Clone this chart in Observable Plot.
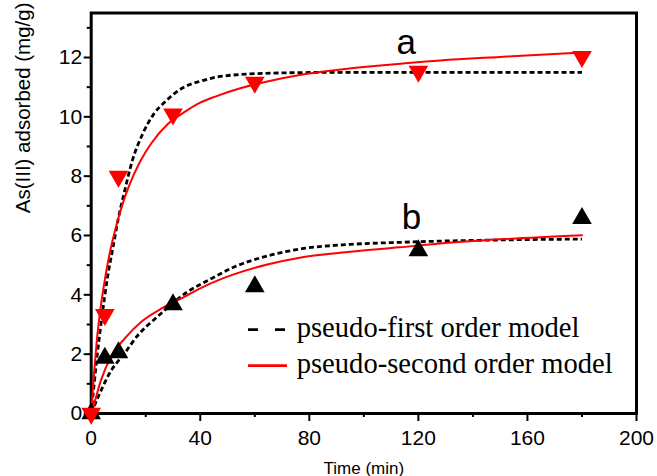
<!DOCTYPE html>
<html>
<head>
<meta charset="utf-8">
<script src="https://cdn.jsdelivr.net/npm/d3@7"></script>
<script src="https://cdn.jsdelivr.net/npm/@observablehq/plot@0.6"></script>
<style>
  html, body { margin: 0; padding: 0; background: #fff; }
  #wrap { position: relative; width: 657px; height: 476px; }
  #wrap svg { display: block; }
  #legend { position: absolute; left: 0; top: 0; pointer-events: none; }
</style>
</head>
<body>
<div id="wrap"></div>
<script>
// Measured data (time in min, As(III) adsorbed in mg/g)
const timePts = [0, 5, 10, 30, 60, 120, 180];
const qA = [0, 3.33, 7.99, 10.09, 11.16, 11.53, 12.03];   // curve a (red, down triangles)
const qB = [0, 1.87, 2.05, 3.67, 4.28, 5.49, 6.58];       // curve b (black, up triangles)

// Pseudo-first order fits
const firstA_t = [0, 2, 4, 6, 8, 10, 12, 15, 19, 23, 27, 34, 40, 45, 55, 70, 90, 120, 150, 180];
const firstA_q = [0, 1.8, 3.3, 4.6, 5.6, 6.6, 7.4, 8.5, 9.45, 10.1, 10.5, 11.0, 11.2, 11.32, 11.43, 11.48, 11.5, 11.5, 11.5, 11.5];
const firstB_t = [0, 3, 7, 12, 17.5, 22.5, 27.5, 34.5, 40, 44.5, 52, 65, 77, 95, 113, 128, 150, 180];
const firstB_q = [0, 0.65, 1.4, 2.0, 2.68, 3.12, 3.52, 4.05, 4.35, 4.57, 4.92, 5.32, 5.55, 5.7, 5.77, 5.81, 5.85, 5.88];

// Pseudo-second order fits
const secondA_t = [0, 1, 2, 3.5, 5, 7, 8.7, 10, 12, 14, 18, 22, 28, 34, 40, 46, 55, 65, 77, 90, 105, 128, 150, 180];
const secondA_q = [0, 1.3, 2.4, 3.6, 4.5, 5.5, 6.15, 6.6, 7.2, 7.7, 8.5, 9.1, 9.75, 10.15, 10.48, 10.7, 10.97, 11.2, 11.42, 11.58, 11.72, 11.9, 12.02, 12.17];
const secondB_t = [0, 1, 3.5, 7.5, 12.5, 18.5, 26, 34.5, 40, 46, 52, 65, 77, 95, 113, 128, 150, 180];
const secondB_q = [0, 0.3, 1.1, 1.95, 2.55, 3.1, 3.55, 3.95, 4.22, 4.47, 4.68, 5.03, 5.26, 5.45, 5.6, 5.73, 5.87, 6.01];

// Curve labels
const curveLabels = ["a", "b"];
const labelT = [115.5, 117.5];
const labelQ = [12.49, 6.59];

// Ticks
const xTicks = [0, 40, 80, 120, 160, 200];
const xMinor = [20, 60, 100, 140, 180];
const yTicks = [0, 2, 4, 6, 8, 10, 12];
const yMinor = [1, 3, 5, 7, 9, 11, 13];

const legendLabels = ["pseudo-first order model", "pseudo-second order model"];

const zip = (ts, qs) => ts.map((t, i) => ({t, q: qs[i]}));
const ptsA = zip(timePts, qA);
const ptsB = zip(timePts, qB);
const labels = curveLabels.map((s, i) => ({s, t: labelT[i], q: labelQ[i]}));

const dashOpts = {x: "t", y: "q", stroke: "#000", strokeWidth: 2.8, strokeDasharray: "5,3", strokeLinecap: "butt", strokeLinejoin: "miter", curve: "monotone-x"};
const solidOpts = {x: "t", y: "q", stroke: "#ff0000", strokeWidth: 2, curve: "monotone-x"};

const chart = Plot.plot({
  width: 657,
  height: 476,
  marginLeft: 90.7,
  marginRight: 21,
  marginTop: 12.5,
  marginBottom: 63,
  x: {domain: [0, 200]},
  y: {domain: [0, 13.5]},
  style: {fontFamily: "'Liberation Sans', Arial, sans-serif", fontSize: "21px", background: "#fff", color: "#000", overflow: "visible"},
  marks: [
    Plot.axisX({ticks: xTicks, tickSize: 8, tickPadding: 9, strokeWidth: 2, label: null, tickFormat: d => String(d)}),
    Plot.axisX({ticks: xMinor, tickSize: 4, strokeWidth: 2, text: null, label: null}),
    Plot.axisY({ticks: yTicks, tickSize: 7, tickPadding: 2, strokeWidth: 2, label: null, tickFormat: d => String(d)}),
    Plot.axisY({ticks: yMinor, tickSize: 4, strokeWidth: 2, text: null, label: null}),
    Plot.text(["Time (min)"], {frameAnchor: "bottom", dy: 54.6, fontSize: 17, lineAnchor: "middle"}),
    Plot.text(["As(III) adsorbed (mg/g)"], {frameAnchor: "left", dx: -68.2, rotate: -90, fontSize: 20.5, lineAnchor: "middle"}),
    Plot.frame({stroke: "#000", strokeWidth: 3}),
    Plot.line(zip(firstA_t, firstA_q), dashOpts),
    Plot.line(zip(firstB_t, firstB_q), dashOpts),
    Plot.line(zip(secondA_t, secondA_q), solidOpts),
    Plot.line(zip(secondB_t, secondB_q), solidOpts),
    Plot.dot(ptsB, {x: "t", y: "q", symbol: "triangle", r: 7.3, fill: "#000", stroke: null}),
    Plot.dot(ptsA, {x: "t", y: "q", symbol: "triangle", r: 7.3, fill: "#ff0000", stroke: null, rotate: 180}),
    Plot.text(labels, {x: "t", y: "q", text: "s", fontSize: 35, lineAnchor: "middle"})
  ]
});

const wrap = document.getElementById("wrap");
wrap.appendChild(chart);

// Legend overlay
const lg = d3.select(wrap).append("svg").attr("id", "legend").attr("width", 657).attr("height", 476);
const legendStyles = [
  {stroke: "#000", dash: "10,17", y: 329.7, base: 336.5},
  {stroke: "#ff0000", dash: null, y: 365.7, base: 373}
];
legendLabels.forEach((lab, i) => {
  const s = legendStyles[i];
  lg.append("line").attr("x1", 248).attr("x2", 287).attr("y1", s.y).attr("y2", s.y)
    .attr("stroke", s.stroke).attr("stroke-width", 2.7).attr("stroke-dasharray", s.dash);
  lg.append("text").attr("x", 296.7).attr("y", s.base)
    .attr("font-family", "'Liberation Serif', 'Times New Roman', serif").attr("font-size", 28.6)
    .attr("fill", "#000").text(lab);
});
</script>
</body>
</html>
